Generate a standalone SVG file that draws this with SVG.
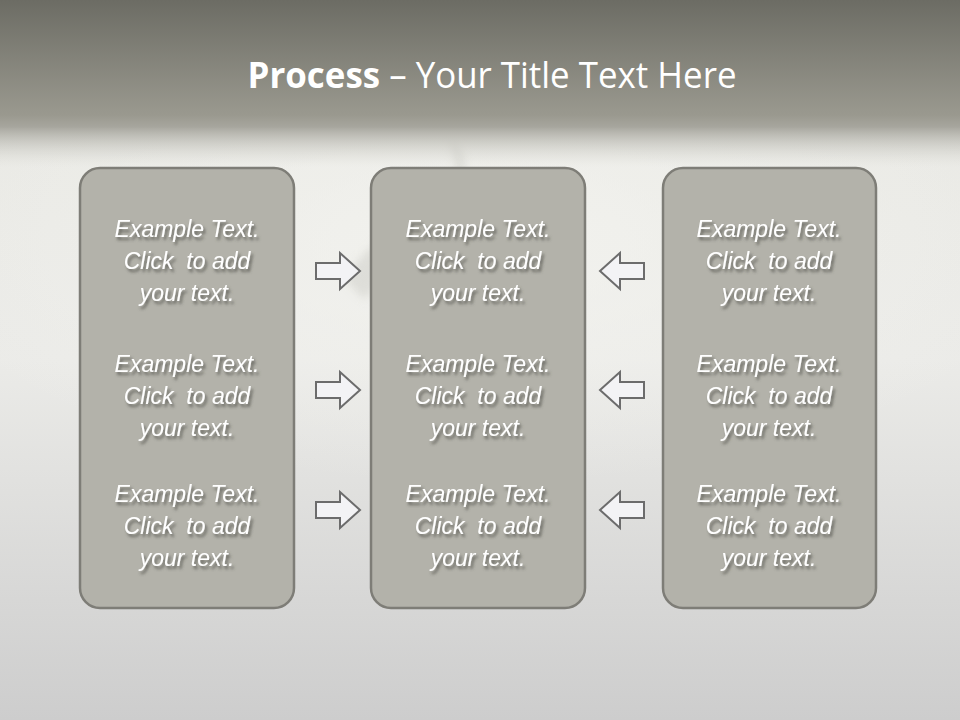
<svg xmlns="http://www.w3.org/2000/svg" width="960" height="720" viewBox="0 0 960 720">
<defs>
<linearGradient id="top" x1="0" y1="0" x2="0" y2="1">
<stop offset="0" stop-color="#6c6c64"/>
<stop offset="0.9" stop-color="#9a998f"/>
<stop offset="1" stop-color="#a8a79f"/>
</linearGradient>
<linearGradient id="bot" x1="0" y1="0" x2="0" y2="1">
<stop offset="0" stop-color="#d8d8d2"/>
<stop offset="0.12" stop-color="#e9e9e4"/>
<stop offset="0.5" stop-color="#ebebe8"/>
<stop offset="1" stop-color="#cdcdcd"/>
</linearGradient>
<linearGradient id="fade" x1="0" y1="0" x2="0" y2="1">
<stop offset="0" stop-color="#a8a79f"/>
<stop offset="1" stop-color="#d8d8d2" stop-opacity="0"/>
</linearGradient>
<radialGradient id="glow" cx="0.5" cy="0.3" r="0.6">
<stop offset="0" stop-color="#f4f4f0" stop-opacity="0.8"/>
<stop offset="1" stop-color="#f4f4f0" stop-opacity="0"/>
</radialGradient>
<filter id="sh" x="-10%" y="-20%" width="130%" height="160%">
<feDropShadow dx="2" dy="3" stdDeviation="1.6" flood-color="#4a4a44" flood-opacity="0.75"/>
</filter>
<filter id="blur"><feGaussianBlur stdDeviation="4"/></filter>
<path id="ar" d="M0,-8 L24,-8 L24,-18 L44,0 L24,18 L24,8 L0,8 Z"/>
</defs>
<style>
.box{fill:#b3b2aa;stroke:#7e7d77;stroke-width:2.5}
.t{font-family:"Liberation Sans",Arial,sans-serif;font-style:italic;font-size:23px;fill:#ffffff;text-anchor:middle;filter:url(#sh);white-space:pre}
.arrow{fill:#f3f3f5;stroke:#6c6c6c;stroke-width:2;stroke-linejoin:miter}
</style>
<rect x="0" y="0" width="960" height="720" fill="url(#bot)"/>
<rect x="0" y="125" width="960" height="400" fill="url(#glow)"/>
<path d="M450,140 C470,150 468,180 455,195 C420,215 370,235 345,280 L365,300 C390,265 430,245 470,230 Z" fill="#d2d2cc" opacity="0.6" filter="url(#blur)"/>
<rect x="0" y="0" width="960" height="128" fill="url(#top)"/>
<rect x="0" y="127" width="960" height="40" fill="url(#fade)"/>
<text x="492" y="88" font-family="'Open Sans','Liberation Sans',sans-serif" font-size="36" fill="#ffffff" text-anchor="middle" textLength="489" lengthAdjust="spacingAndGlyphs"><tspan font-weight="bold">Process</tspan> – Your Title Text Here</text>

<g id="box1">
<rect class="box" x="80" y="168" width="214" height="440" rx="20"/>
<text class="t" x="187" y="237">Example Text.</text>
<text class="t" x="187" y="269" xml:space="preserve">Click  to add</text>
<text class="t" x="187" y="301">your text.</text>
<text class="t" x="187" y="372">Example Text.</text>
<text class="t" x="187" y="404" xml:space="preserve">Click  to add</text>
<text class="t" x="187" y="436">your text.</text>
<text class="t" x="187" y="502">Example Text.</text>
<text class="t" x="187" y="534" xml:space="preserve">Click  to add</text>
<text class="t" x="187" y="566">your text.</text>
</g>
<g id="box2">
<rect class="box" x="371" y="168" width="214" height="440" rx="20"/>
<text class="t" x="478" y="237">Example Text.</text>
<text class="t" x="478" y="269" xml:space="preserve">Click  to add</text>
<text class="t" x="478" y="301">your text.</text>
<text class="t" x="478" y="372">Example Text.</text>
<text class="t" x="478" y="404" xml:space="preserve">Click  to add</text>
<text class="t" x="478" y="436">your text.</text>
<text class="t" x="478" y="502">Example Text.</text>
<text class="t" x="478" y="534" xml:space="preserve">Click  to add</text>
<text class="t" x="478" y="566">your text.</text>
</g>
<g id="box3">
<rect class="box" x="663" y="168" width="213" height="440" rx="20"/>
<text class="t" x="769" y="237">Example Text.</text>
<text class="t" x="769" y="269" xml:space="preserve">Click  to add</text>
<text class="t" x="769" y="301">your text.</text>
<text class="t" x="769" y="372">Example Text.</text>
<text class="t" x="769" y="404" xml:space="preserve">Click  to add</text>
<text class="t" x="769" y="436">your text.</text>
<text class="t" x="769" y="502">Example Text.</text>
<text class="t" x="769" y="534" xml:space="preserve">Click  to add</text>
<text class="t" x="769" y="566">your text.</text>
</g>
<g id="connectors">
<use href="#ar" class="arrow" transform="translate(316,271)"/>
<use href="#ar" class="arrow" transform="translate(316,390)"/>
<use href="#ar" class="arrow" transform="translate(316,510)"/>
<use href="#ar" class="arrow" transform="translate(644,271) scale(-1,1)"/>
<use href="#ar" class="arrow" transform="translate(644,390) scale(-1,1)"/>
<use href="#ar" class="arrow" transform="translate(644,510) scale(-1,1)"/>
</g>
</svg>
